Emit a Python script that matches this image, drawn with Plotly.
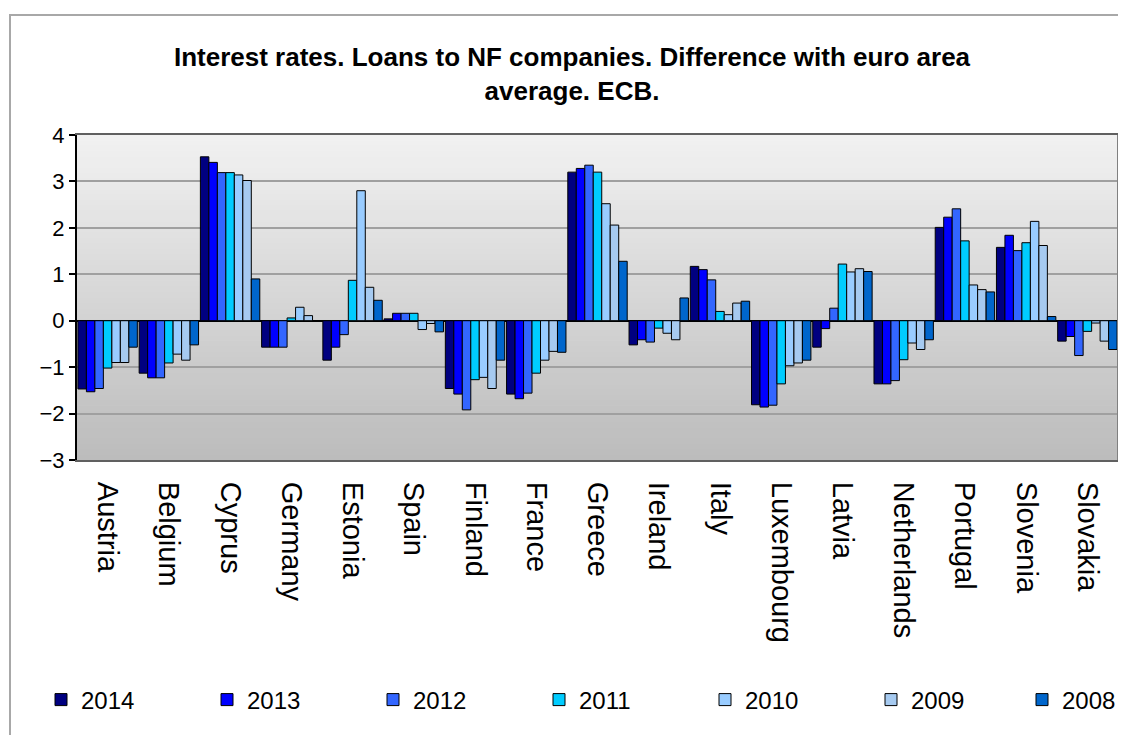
import plotly.graph_objects as go

countries = ["Austria", "Belgium", "Cyprus", "Germany", "Estonia", "Spain", "Finland",
             "France", "Greece", "Ireland", "Italy", "Luxembourg", "Latvia",
             "Netherlands", "Portugal", "Slovenia", "Slovakia"]

v2014 = [-1.47, -1.13, 3.53, -0.57, -0.85, 0.04, -1.46, -1.58, 3.20, -0.52, 1.17, -1.81, -0.57, -1.36, 2.01, 1.58, -0.44]
v2013 = [-1.53, -1.23, 3.41, -0.57, -0.57, 0.16, -1.58, -1.68, 3.28, -0.41, 1.10, -1.86, -0.17, -1.36, 2.23, 1.84, -0.34]
v2012 = [-1.46, -1.23, 3.19, -0.57, -0.30, 0.16, -1.92, -1.56, 3.35, -0.46, 0.88, -1.82, 0.27, -1.29, 2.41, 1.51, -0.75]
v2011 = [-1.02, -0.91, 3.19, 0.06, 0.87, 0.16, -1.27, -1.13, 3.20, -0.16, 0.20, -1.36, 1.22, -0.84, 1.72, 1.68, -0.23]
v2010 = [-0.90, -0.72, 3.14, 0.29, 2.80, -0.19, -1.22, -0.85, 2.52, -0.27, 0.13, -0.97, 1.05, -0.48, 0.77, 2.14, -0.05]
v2009 = [-0.90, -0.85, 3.02, 0.11, 0.72, -0.06, -1.46, -0.66, 2.06, -0.41, 0.38, -0.91, 1.12, -0.62, 0.67, 1.62, -0.44]
v2008 = [-0.57, -0.52, 0.90, 0.00, 0.44, -0.24, -0.85, -0.68, 1.28, 0.49, 0.42, -0.85, 1.06, -0.41, 0.62, 0.09, -0.62]

years = ["2014", "2013", "2012", "2011", "2010", "2009", "2008"]
series = [v2014, v2013, v2012, v2011, v2010, v2009, v2008]
colors = ["#000080", "#0000FF", "#3366FF", "#00CCFF", "#99CCFF", "#A6CAF0", "#0066CC"]
legend_ids = ["legend", "legend", "legend", "legend", "legend", "legend", "legend2"]

y_ticks = [4, 3, 2, 1, 0, -1, -2, -3]

# figure sits at an 8px page offset, so size it to fill the window
W, H = 1118, 727
L, R, T, B = 69, 8, 127, 275
PW, PH = W - L - R, H - T - B

fig = go.Figure()
for yr, vals, col, lg in zip(years, series, colors, legend_ids):
    fig.add_trace(go.Bar(
        x=countries, y=vals, name=yr, legend=lg,
        marker=dict(color=col, line=dict(color="black", width=1)),
    ))

# gradient background of plot area
shapes = []
n = 60
for i in range(n):
    t = i / n
    c = int(242 - (242 - 188) * (1 - (i + 0.5) / n))
    shapes.append(dict(type="rect", xref="x domain", yref="y domain",
                       x0=0, x1=1, y0=t, y1=t + 1.0 / n + 0.002,
                       fillcolor=f"rgb({c},{c},{c})", line=dict(width=0),
                       layer="below"))
# right border of plot area
shapes.append(dict(type="line", xref="x domain", yref="y domain", x0=1, x1=1, y0=0, y1=1,
                   line=dict(color="#808080", width=2), layer="above"))
# outer chart border
shapes.append(dict(type="rect", xref="paper", yref="paper",
                   x0=(2 - L) / PW, x1=(W + 20 - L) / PW,
                   y0=(H - B - (H + 20)) / PH, y1=(H - B - 7) / PH,
                   line=dict(color="#A8A8A8", width=2), fillcolor="rgba(0,0,0,0)"))

legend_font = dict(size=24, family="Arial", color="black")
legend_y = (H - B - 692) / PH

fig.update_layout(
    width=W, height=H,
    margin=dict(l=L, r=R, t=T, b=B, autoexpand=False),
    paper_bgcolor="white",
    plot_bgcolor="#D8D8D8",
    barmode="group",
    bargap=0.03,
    bargroupgap=0,
    shapes=shapes,
    title=dict(
        text="Interest rates. Loans to NF companies. Difference with euro area<br>average. ECB.",
        font=dict(family="Arial", size=26, color="black", weight="bold"),
        x=564 / W, xanchor="center", xref="container",
        y=1 - 58 / H, yanchor="top", yref="container",
    ),
    font=dict(family="Arial", color="black"),
    xaxis=dict(
        tickangle=90, tickfont=dict(size=29, family="Arial"),
        showline=True, linecolor="#606060", linewidth=2, mirror=True,
        ticks="", showgrid=False, ticklabelstandoff=14, automargin=False,
    ),
    yaxis=dict(
        range=[-3, 4], tickvals=y_ticks, tickfont=dict(size=22, family="Arial"),
        showline=True, linecolor="black", linewidth=2,
        ticks="outside", ticklen=6, tickcolor="black", tickwidth=2,
        showgrid=True, gridcolor="#A0A0A0", gridwidth=2,
        zeroline=True, zerolinecolor="black", zerolinewidth=2, automargin=False,
    ),
    legend=dict(
        orientation="h", x=(33 - L) / PW, xanchor="left",
        y=legend_y, yanchor="middle",
        font=legend_font,
        entrywidth=121, entrywidthmode="pixels",
        traceorder="normal", itemclick=False,
    ),
    legend2=dict(
        orientation="h", x=(1014 - L) / PW, xanchor="left",
        y=legend_y, yanchor="middle",
        font=legend_font, itemclick=False,
    ),
    showlegend=True,
)

fig.write_html("out.html")
